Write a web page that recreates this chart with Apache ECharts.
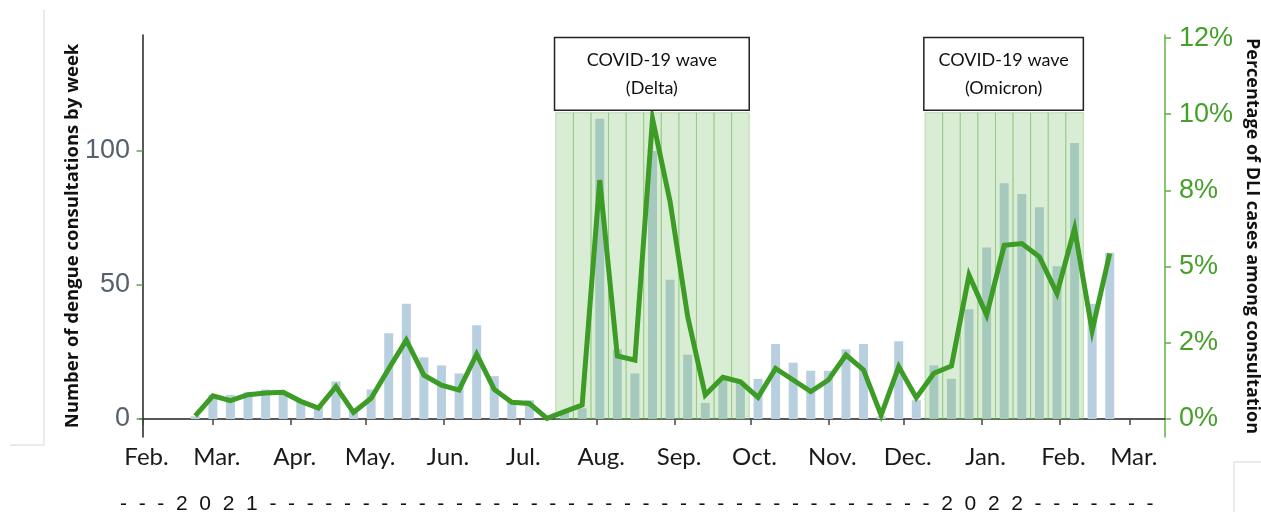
<!DOCTYPE html>
<html>
<head>
<meta charset="utf-8">
<title>Dengue consultations</title>
<script src="https://cdn.jsdelivr.net/npm/echarts@6/dist/echarts.min.js"></script>
<style>
html, body { margin: 0; padding: 0; background: #fff; }
#main { width: 1261px; height: 517px; }
</style>
</head>
<body>
<div id="main"></div>
<script>
// weekly points (week start dates)
var weeks = [
	'2021-02-22', '2021-03-01', '2021-03-08', '2021-03-15', '2021-03-22', '2021-03-29',
	'2021-04-05', '2021-04-12', '2021-04-19', '2021-04-26', '2021-05-03', '2021-05-10',
	'2021-05-17', '2021-05-24', '2021-05-31', '2021-06-07', '2021-06-14', '2021-06-21',
	'2021-06-28', '2021-07-05', '2021-07-12', '2021-07-19', '2021-07-26', '2021-08-02',
	'2021-08-09', '2021-08-16', '2021-08-23', '2021-08-30', '2021-09-06', '2021-09-13',
	'2021-09-20', '2021-09-27', '2021-10-04', '2021-10-11', '2021-10-18', '2021-10-25',
	'2021-11-01', '2021-11-08', '2021-11-15', '2021-11-22', '2021-11-29', '2021-12-06',
	'2021-12-13', '2021-12-20', '2021-12-27', '2022-01-03', '2022-01-10', '2022-01-17',
	'2022-01-24', '2022-01-31', '2022-02-07', '2022-02-14', '2022-02-21'
];
// number of dengue consultations by week (bars, left axis)
var consultations = [
	1, 9, 9, 10, 11, 10, 7, 5, 14, 3, 11, 32, 43, 23, 20, 17, 35, 16, 7, 7, 0,
	3, 4, 112, 26, 17, 100, 52, 24, 6, 15, 14,
	15, 28, 21, 18, 18, 26, 28, 1, 29, 7,
	20, 15, 41, 64, 88, 84, 79, 57, 103, 43, 62
];
// percentage of DLI cases among consultations (line, right axis)
var dliPercent = [
	0.1, 0.76, 0.6, 0.8, 0.85, 0.88, 0.58, 0.36, 1.06, 0.22, 0.68, 1.65, 2.59, 1.44, 1.11, 0.95, 2.13, 0.97, 0.55, 0.51, 0.02,
	0.24, 0.46, 7.84, 2.07, 1.93, 9.85, 7.13, 3.36, 0.79, 1.37, 1.22,
	0.71, 1.66, 1.28, 0.9, 1.28, 2.1, 1.61, 0.13, 1.72, 0.7,
	1.5, 1.74, 4.72, 3.41, 5.7, 5.76, 5.32, 4.12, 6.25, 2.9, 5.43
];
// x axis month ticks
var monthTicks = [
	'2021-02-01', '2021-03-01', '2021-04-01', '2021-05-01', '2021-06-01', '2021-07-01', '2021-08-01',
	'2021-09-01', '2021-10-01', '2021-11-01', '2021-12-01', '2022-01-01', '2022-02-01', '2022-03-01'
];
var monthLabels = ['Feb.', 'Mar.', 'Apr.', 'May.', 'Jun.', 'Jul.', 'Aug.', 'Sep.', 'Oct.', 'Nov.', 'Dec.', 'Jan.', 'Feb.', 'Mar.'];
// y axes ticks
var countTicks = [0, 50, 100];
var pctTicks = [0, 2.5, 5, 7.5, 10, 12.5];
var pctLabels = ['0%', '2%', '5%', '8%', '10%', '12%'];
// COVID-19 waves: first and last shaded week
var waveNames = ['COVID-19 wave\n(Delta)', 'COVID-19 wave\n(Omicron)'];
var waveFirst = ['2021-07-19', '2021-12-13'];
var waveLast = ['2021-09-27', '2022-02-07'];
var yearLine = '-  -  -  2  0  2  1  -  -  -  -  -  -  -  -  -  -  -  -  -  -  -  -  -  -  -  -  -  -  -  -  -  -  -  -  -  -  -  -  -  -  -  -  2  0  2  2  -  -  -  -  -  -  -';

var origin = Date.UTC(2021, 1, 1);
function toDay(s) {
	var p = s.split('-');
	return Math.round((Date.UTC(+p[0], +p[1] - 1, +p[2]) - origin) / 86400000);
}

var weekDays = weeks.map(toDay);
var tickDays = monthTicks.map(toDay);
var barData = [];
var lineData = [];
for (var i = 0; i < weeks.length; i++) {
	barData.push([weekDays[i], consultations[i]]);
	lineData.push([weekDays[i], dliPercent[i]]);
}

// shaded weekly cells and the label boxes above them
var cells = [];
var boxes = [];
for (var w = 0; w < waveNames.length; w++) {
	var a = toDay(waveFirst[w]), b = toDay(waveLast[w]);
	for (var d = a; d <= b; d += 7) {
		cells.push([{ xAxis: d - 3.5, yAxis: 0 }, { xAxis: d + 3.5, yAxis: 10.05 }]);
	}
	boxes.push([{ name: waveNames[w], xAxis: a - 4, yAxis: 10.13 }, { xAxis: b + 3.5, yAxis: 12.52 }]);
}

var Chart = echarts.init(document.getElementById('main'));
var option = {
	animation: false,
	grid: { left: 140, right: 96, top: 35, bottom: 80, outerBoundsMode: 'none' },
	xAxis: {
		type: 'value',
		min: -1,
		max: 407,
		splitLine: { show: false },
		axisLine: { lineStyle: { color: '#222', width: 1.5 } },
		axisTick: { customValues: tickDays, length: 6, lineStyle: { color: '#444', width: 1.5 } },
		axisLabel: {
			customValues: tickDays,
			margin: 8,
			padding: [0, 0, 0, 8],
			fontFamily: 'Lato',
			fontSize: 24,
			color: '#1a1a1a',
			formatter: function(v) {
				var k = tickDays.indexOf(Math.round(v));
				return k < 0 ? '' : monthLabels[k];
			}
		}
	},
	yAxis: [{
		type: 'value',
		min: -6.72,
		max: 143.3,
		splitLine: { show: false },
		name: 'Number of dengue consultations by week',
		nameLocation: 'middle',
		nameGap: 58,
		nameMoveOverlap: false,
		nameTextStyle: { fontFamily: 'Open Sans', fontWeight: 'bold', fontSize: 18.5, color: '#111' },
		axisLine: { show: true, lineStyle: { color: '#222', width: 1.5 } },
		axisTick: { show: true, customValues: countTicks, length: 6, lineStyle: { color: '#5aae3c', width: 1.5 } },
		axisLabel: {
			customValues: countTicks,
			margin: 10,
			fontFamily: 'Liberation Sans',
			fontSize: 27,
			color: '#56606c'
		}
	}, {
		type: 'value',
		position: 'right',
		min: -0.59,
		max: 12.6,
		splitLine: { show: false },
		name: 'Percentage of DLI cases among consultation',
		nameLocation: 'middle',
		nameRotate: -90,
		nameGap: 78,
		nameMoveOverlap: false,
		nameTextStyle: { fontFamily: 'Open Sans', fontWeight: 'bold', fontSize: 18, color: '#111' },
		axisLine: { show: true, lineStyle: { color: '#62b045', width: 1.5 } },
		axisTick: { show: true, customValues: pctTicks, length: 6, lineStyle: { color: '#62b045', width: 1.5 } },
		axisLabel: {
			customValues: pctTicks,
			margin: 14,
			fontFamily: 'Liberation Sans',
			fontSize: 27,
			color: '#45a02a',
			formatter: function(v) {
				var k = pctTicks.indexOf(v);
				return k < 0 ? '' : pctLabels[k];
			}
		}
	}],
	series: [{
		name: 'Consultations',
		type: 'bar',
		z: 2,
		barWidth: 9,
		itemStyle: { color: '#b8cfe0' },
		data: barData
	}, {
		name: 'waves',
		type: 'line',
		yAxisIndex: 1,
		z: 3,
		silent: true,
		data: [],
		markArea: {
			silent: true,
			z: 3,
			itemStyle: { color: 'rgba(120,190,100,0.28)', borderColor: 'rgba(120,185,100,0.45)', borderWidth: 1 },
			data: cells
		}
	}, {
		name: 'DLI',
		type: 'line',
		yAxisIndex: 1,
		z: 4,
		symbol: 'none',
		lineStyle: { color: '#3c9c25', width: 5, join: 'miter' },
		data: lineData
	}, {
		name: 'boxes',
		type: 'line',
		yAxisIndex: 1,
		z: 5,
		silent: true,
		data: [],
		markArea: {
			silent: true,
			z: 5,
			itemStyle: { color: '#fff', borderColor: '#222', borderWidth: 1.5 },
			label: {
				show: true,
				position: 'inside',
				fontFamily: 'Lato',
				fontSize: 18,
				lineHeight: 28,
				padding: [4, 0, 0, 0],
				color: '#111'
			},
			data: boxes
		}
	}],
	graphic: [{
		type: 'text',
		left: 120,
		top: 494,
		style: { text: yearLine, font: '21px "Liberation Sans"', fill: '#111' }
	}, {
		type: 'line', shape: { x1: 44, y1: 10, x2: 44, y2: 445 }, style: { stroke: '#d6d6d6', lineWidth: 1 }
	}, {
		type: 'line', shape: { x1: 10, y1: 445, x2: 44, y2: 445 }, style: { stroke: '#d6d6d6', lineWidth: 1 }
	}, {
		type: 'line', shape: { x1: 1234, y1: 462, x2: 1234, y2: 512 }, style: { stroke: '#d6d6d6', lineWidth: 1 }
	}, {
		type: 'line', shape: { x1: 1234, y1: 462, x2: 1261, y2: 462 }, style: { stroke: '#d6d6d6', lineWidth: 1 }
	}]
};
Chart.setOption(option);
window.onresize = Chart.resize;
</script>
</body>
</html>
